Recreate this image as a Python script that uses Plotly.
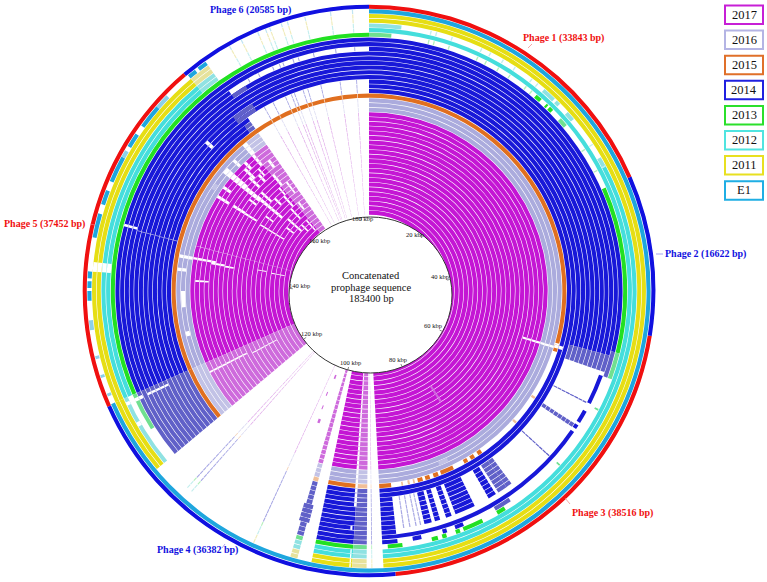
import math
import plotly.graph_objects as go

W, H = 767, 582
CX, CY = 369, 291
RING_BASE = 81
RING_STEP = 4.68
OUTER_R = 287

# legend
legend_labels = ['2017', '2016', '2015', '2014', '2013', '2012', '2011', 'E1']
legend_colors = ['#C71FD6', '#B4B4E4', '#E0702A', '#2020E0', '#2BE02B', '#50E4E0', '#E8E020', '#1FAEE4']

# ring groups, counted from the inner circle: first ring, last ring, strong, faint and hairline colour
ring_groups = [(-1, 20, '#C416D4', '#CE6ADC', '#E0ACEA'),
               (21, 23, '#ABABDD', '#C2C2E6', '#DCDCF2'),
               (24, 24, '#E06F20', '#F0BE98', '#F4D4BC'),
               (25, 36, '#1818D8', '#6060C8', '#A8A8E4'),
               (37, 37, '#22E022', '#70E090', '#B4F0BC'),
               (38, 39, '#45DEDC', '#90E2E2', '#C4EEEE'),
               (40, 41, '#E6DE14', '#E6E29C', '#F0ECBC'),
               (42, 42, '#1EA6DE', '#8CD0E8', '#C0E4F2')]

# prophage lengths for the outermost ring
phage_names = ['Phage 1', 'Phage 2', 'Phage 3', 'Phage 4', 'Phage 5', 'Phage 6']
phage_lengths = [33843, 16622, 38516, 36382, 37452, 20585]
phage_colors = ['#F01010', '#1010E0', '#F01010', '#1010E0', '#F01010', '#1010E0']
phage_label_x = [563, 705, 612, 197, 44, 250]
phage_label_y = [38, 254, 513, 550, 224, 10]
total_bp = 183400

tick_kbp = [20, 40, 60, 80, 100, 120, 140, 160, 180]

# BLAST hits: first ring, last ring, start deg, end deg, tone
# tone d = strong, l = faint, t = hairline
hits_phage4_left = [(-1, 41, 180.5, 183.5, 'l'), (-1, 41, 183.5, 192, 'd'), (-1, 41, 195, 196.5, 'l'),
                    (-1, 23, 230, 246.3, 'l'), (24, 24, 230, 246.3, 'd'), (25, 36, 230, 246.3, 'l'),
                    (39, 39, 230, 246.3, 'l'), (40, 41, 230, 246.3, 'd')]
hits_inner = [(-1, 23, 0, 177, 'd'), (-1, 23, 246.3, 320, 'd'), (-1, 23, 320, 325, 'l')]
hits_orange = [(24, 24, 0, 105.5, 'd'), (24, 24, 106, 108, 'd'), (24, 24, 122.5, 123.2, 'l'),
               (24, 24, 131.5, 132.2, 'l'), (24, 24, 145, 146.3, 'd'), (24, 24, 147.5, 148.8, 'd'),
               (24, 24, 149.8, 151, 'd'), (24, 24, 154.5, 158.5, 'd'), (24, 24, 159.3, 160.8, 'd'),
               (24, 24, 161.9, 163.3, 'd'), (24, 24, 164.1, 165.6, 'd'), (24, 24, 166.5, 167, 'l'),
               (24, 24, 168, 168.6, 'l'), (24, 24, 170, 170.5, 'l'), (24, 24, 173.5, 177, 'd'),
               (24, 24, 246.3, 360, 'd')]
hits_blue = [(25, 26, 0, 177, 'd'), (25, 26, 246.3, 323, 'd'), (25, 26, 323, 325, 'l'),
             (27, 34, 0, 105, 'd'), (27, 34, 105, 109, 'l'), (27, 34, 117, 117.3, 'l'),
             (27, 34, 122.8, 123.8, 'l'), (27, 34, 132.3, 132.6, 'l'), (27, 33, 143.5, 145, 'l'),
             (27, 33, 145, 147.3, 'l'), (27, 33, 148, 150, 'd'), (27, 33, 153.8, 158.8, 'd'),
             (27, 33, 159.8, 161.2, 'd'), (27, 33, 162.7, 164, 'd'), (27, 33, 164.8, 166.6, 'd'),
             (27, 33, 167.4, 167.7, 't'), (27, 33, 168.5, 168.8, 't'), (27, 33, 170, 170.3, 't'),
             (27, 33, 171.5, 171.8, 't'), (27, 34, 173.6, 177, 'd'), (27, 27, 246.3, 325, 'd'),
             (34, 34, 246.3, 325, 'd'), (28, 33, 246.3, 360, 'd'), (28, 29, 322, 328, 'l'),
             (33, 33, 325, 329, 'l'),
             (35, 35, 0, 105, 'd'), (35, 35, 105, 109, 'l'), (35, 35, 110, 117, 'd'),
             (35, 35, 119, 122, 'd'), (35, 35, 122.7, 123.7, 'd'), (35, 35, 124.5, 177, 'd'),
             (35, 36, 246.3, 360, 'd'),
             (36, 36, 0, 104, 'd'), (36, 36, 104, 110, 'l'), (36, 36, 146, 150, 'l'),
             (36, 36, 158, 160, 'd'), (36, 36, 162, 163, 'd'), (36, 36, 168, 170, 'd'),
             (36, 36, 173.5, 177, 'd')]
hits_green = [(37, 37, 0, 5, 'l'), (37, 37, 40.5, 42, 'd'), (37, 37, 43.5, 44, 'd'), (37, 37, 44.5, 45.5, 'd'),
              (37, 37, 48, 50, 'l'), (37, 37, 66.4, 104, 'd'), (37, 37, 104, 110, 'l'),
              (37, 37, 117.2, 117.6, 'l'), (37, 37, 132.2, 132.6, 'l'), (37, 37, 148, 150, 'd'),
              (37, 37, 153.7, 158.4, 'd'), (37, 37, 159.2, 160.2, 'd'), (37, 37, 162.4, 163.4, 'd'),
              (37, 37, 164.4, 165.8, 'd'), (37, 37, 172.5, 175.8, 'd'),
              (37, 37, 237.6, 246.3, 'l'), (37, 37, 246.3, 360, 'd')]
hits_cyan = [(38, 38, 0, 177, 'd'), (38, 38, 246.3, 320, 'd'), (38, 38, 320, 324.5, 'l'),
             (39, 39, 0, 7, 'l'), (39, 39, 41, 44, 'l'), (39, 39, 44.6, 45.6, 'l'), (39, 39, 48, 50, 'l'),
             (39, 39, 60, 62, 'l'), (39, 39, 62, 177, 'd'), (39, 39, 246.3, 320, 'd'), (39, 39, 320, 324.5, 'l')]
hits_yellow = [(40, 41, 0, 177, 'd'), (40, 41, 246.3, 320, 'd'), (40, 41, 320, 324.5, 'l')]
hits_e1 = [(42, 42, 0, 246.3, 'd'), (42, 42, 248, 248.6, 'l'), (42, 42, 252, 252.6, 'l'), (42, 42, 256, 256.6, 'l'),
           (42, 42, 262, 264, 'l'), (42, 42, 268, 270, 'd'), (42, 42, 270.6, 272, 'd'), (42, 42, 272.6, 274, 'd'),
           (42, 42, 281, 286, 'd'), (42, 42, 288, 291, 'd'), (42, 42, 293, 298.5, 'd'), (42, 42, 298.5, 300, 'l'),
           (42, 42, 301, 304, 'd'), (42, 42, 306, 311, 'd'), (42, 42, 311, 314, 'l'), (42, 42, 320, 321.8, 'd'),
           (42, 42, 322.5, 324.5, 'd')]

# thin hits running through most rings (deg)
thin_phage4 = [204.5, 221.4, 222.6]
thin_phage6 = [330.2, 332.9, 336.6, 338.3, 339.2, 341.7, 343, 346.7, 352, 356.5]
thin_phage1 = [13.3, 14.5, 18, 24.8, 26.9, 30, 33, 37.4, 39, 56.6, 62]
faint_dashes = [(2, 2, 201, 202, 'l'), (6, 6, 202, 202.5, 'l'), (9, 9, 201.5, 202, 'l'), (12, 12, 200.5, 201.5, 'l'),
                (7, 10, 146.5, 147.5, 'l'), (22, 22, 155, 158, 'l'), (22, 22, 303, 305, 'l'),
                (-1, 20, 284.5, 284.7, 't'), (25, 33, 284.5, 284.7, 't'), (30, 33, 194.5, 197, 'l')]

# white gaps, mostly in phage 5
gaps = [(16, 20, 280.2, 281), (17, 19, 273, 273.6), (14, 16, 279.6, 280.4), (12, 13, 279.3, 280),
        (5, 6, 280.5, 281), (1, 3, 280, 280.6), (4, 9, 301, 301.7), (18, 20, 301.5, 302.5),
        (14, 16, 301.6, 302.6), (11, 13, 301.6, 302.4), (17, 20, 309, 311), (13, 16, 309, 310.6),
        (11, 13, 309.5, 310.8), (7, 10, 309.5, 310.8), (17, 19, 314, 315), (18, 20, 319, 320),
        (15, 17, 313, 314), (11, 13, 312, 313), (2, 5, 311, 312.2), (7, 9, 317.6, 318.6),
        (19, 20, 305, 306), (15, 16, 316, 317), (9, 10, 314, 315), (4, 6, 316, 317),
        (0, 2, 318, 319), (12, 14, 320, 321), (3, 4, 307, 308), (8, 9, 305.5, 306.3),
        (16, 17, 322, 323), (9, 11, 322.5, 323.3), (5, 6, 321, 322), (13, 14, 307, 307.8),
        (19, 20, 315.5, 316.5), (1, 2, 314, 315), (10, 11, 318.5, 319.3), (16, 17, 317.5, 318.2),
        (21, 22, 309, 311), (21, 22, 313.5, 314.5), (21, 23, 319, 320.5), (21, 23, 280, 281),
        (22, 23, 276, 277), (22, 22, 265, 270), (22, 22, 256, 257.5), (28, 29, 312, 313),
        (34, 36, 284.8, 285.4), (38, 41, 274, 276), (12, 20, 242.7, 243.3),
        (5, 10, 241.8, 242.3), (30, 34, 244.7, 245.3), (36, 39, 244.6, 245.4), (38, 39, 239.5, 240.5),
        (17, 23, 106.5, 107.2), (24, 25, 106, 107), (-1, 28, 183.3, 184), (33, 33, 184, 184.5),
        (38, 41, 183.8, 184.1)]

hits = (hits_inner + hits_orange + hits_blue + hits_green + hits_cyan + hits_yellow + hits_e1
        + hits_phage4_left + faint_dashes)
for a in thin_phage4:
    hits.append((-1, 39 if a > 210 else 41, a, a + 0.25, 't'))
for a in thin_phage6:
    hits.append((-1, 27, a, a + 0.25, 't'))
    hits.append((34, 34, a, a + 0.25, 't'))
    hits.append((38, 42, a, a + 0.25, 't'))
for a in thin_phage1:
    hits.append((37, 37, a, a + 0.3, 't'))
    hits.append((39, 39, a, a + 0.3, 't'))
hits.append((-1, 41, 179.3, 179.5, 't'))


def ring_colours(ring):
    for first, last, strong, faint, hair in ring_groups:
        if first <= ring <= last:
            return dict(d=strong, l=faint, t=hair)


bars = {}


def add_bar(colour, ring, start, end):
    b = bars.setdefault(colour, dict(r=[], base=[], theta=[], width=[]))
    b['r'].append(RING_STEP - 0.6)
    b['base'].append(RING_BASE + RING_STEP * ring)
    b['theta'].append((start + end) / 2)
    b['width'].append(end - start)


for wanted in ['d', 'l', 't']:
    for first, last, start, end, tone in hits:
        if tone == wanted:
            for ring in range(first, last + 1):
                add_bar(ring_colours(ring)[tone], ring, start, end)

for first, last, start, end in gaps:
    for ring in range(first, last + 1):
        add_bar('#FFFFFF', ring, start, end)

# outer phage ring
pos = 0
for length, colour in zip(phage_lengths, phage_colors):
    next_pos = pos + length
    add_bar(colour, 43, pos / total_bp * 360, next_pos / total_bp * 360)
    pos = next_pos

data = [go.Barpolar(r=b['r'], base=b['base'], theta=b['theta'], width=b['width'],
                    marker=dict(color=colour, line=dict(width=0)), hoverinfo='skip', showlegend=False)
        for colour, b in bars.items()]

shapes = []
annotations = []


def px(x):
    return x / W


def py(y):
    return 1 - y / H


def note(x, y, text, size, colour='#111111', bold=False):
    annotations.append(dict(x=px(x), y=py(y), xref='paper', yref='paper', text='<b>%s</b>' % text if bold else text,
                            showarrow=False, xanchor='center', yanchor='middle',
                            font=dict(family='Liberation Serif', size=size, color=colour)))


# inner disc
DISC_X, DISC_Y = 370.5, 295
shapes.append(dict(type='circle', xref='paper', yref='paper', x0=px(289), x1=px(452), y0=py(373), y1=py(217),
                   fillcolor='white', line=dict(color='#333333', width=1), layer='above'))
for kb in tick_kbp:
    ang = math.radians(kb * 1000 / total_bp * 360)
    sx, cy = math.sin(ang), math.cos(ang)
    shapes.append(dict(type='line', xref='paper', yref='paper', layer='above',
                       x0=px(DISC_X + 78 * sx), y0=py(DISC_Y - 75 * cy),
                       x1=px(DISC_X + 81 * sx), y1=py(DISC_Y - 78 * cy),
                       line=dict(color='#555555', width=0.7)))
    note(DISC_X + 71 * sx, 291.5 - 74 * cy, '%d kbp' % kb, 6.5)

note(371, 275, 'Concatenated', 10.5)
note(371, 287, 'prophage sequence', 10.5)
note(371, 298, '183400 bp', 10.5)

# phage labels
for name, length, colour, x, y in zip(phage_names, phage_lengths, phage_colors, phage_label_x, phage_label_y):
    note(x, y, '%s (%d bp)' % (name, length), 10, colour, bold=True)

leaders = [(528, 48, 532, 44, '#F08080'), (656, 254, 663, 254, '#8080F0'), (565, 498, 570, 504, '#F08080'),
           (222, 548, 225, 544, '#8080F0'), (90, 224, 95, 225, '#F08080')]
for x0, y0, x1, y1, colour in leaders:
    shapes.append(dict(type='line', xref='paper', yref='paper', x0=px(x0), y0=py(y0), x1=px(x1), y1=py(y1),
                       line=dict(color=colour, width=0.7)))

# legend boxes
for i, (label, colour) in enumerate(zip(legend_labels, legend_colors)):
    top = 5.5 + 25.1 * i
    shapes.append(dict(type='rect', xref='paper', yref='paper', x0=px(725), x1=px(763), y0=py(top + 18.5), y1=py(top),
                       fillcolor='white', line=dict(color=colour, width=2)))
    note(744, top + 9, label, 12.5)

layout = go.Layout(width=W, height=H, margin=dict(l=0, r=0, t=0, b=0), paper_bgcolor='white',
                   shapes=shapes, annotations=annotations, showlegend=False,
                   polar=dict(domain=dict(x=[(CX - OUTER_R) / W, (CX + OUTER_R) / W],
                                          y=[1 - (CY + OUTER_R) / H, 1 - (CY - OUTER_R) / H]),
                              bgcolor='white', barmode='overlay', bargap=0,
                              radialaxis=dict(visible=False, range=[0, OUTER_R]),
                              angularaxis=dict(visible=False, direction='clockwise', rotation=90)))

fig = go.Figure(data=data, layout=layout)
fig.write_html("out.html", config={'displayModeBar': False}, post_script="document.body.style.margin='0';")
